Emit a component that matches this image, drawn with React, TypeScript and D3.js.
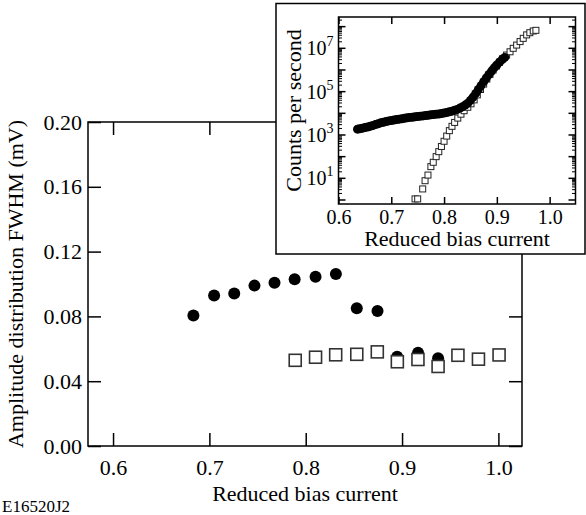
import { useEffect, useRef } from "react";
import * as d3 from "d3";

// main panel: amplitude distribution FWHM (mV) vs reduced bias current
const circleBias = [0.6834, 0.7049, 0.7258, 0.7468, 0.7676, 0.7885, 0.8102, 0.8313, 0.853, 0.8745, 0.8949, 0.9166, 0.9374];
const circleFwhm = [0.0806, 0.0929, 0.0941, 0.099, 0.1007, 0.1029, 0.1045, 0.1062, 0.085, 0.0833, 0.0551, 0.0576, 0.0541];
const squareBias = [0.7891, 0.8102, 0.8311, 0.853, 0.8743, 0.8951, 0.9165, 0.9374, 0.958, 0.9793, 1.0007];
const squareFwhm = [0.0529, 0.0548, 0.0563, 0.0566, 0.0581, 0.052, 0.0534, 0.0491, 0.056, 0.0536, 0.0562];
const mainXTicks = [0.6, 0.7, 0.8, 0.9, 1.0];
const mainYTicks = [0, 0.04, 0.08, 0.12, 0.16, 0.2];

// inset: counts per second, stored as log10 of the count rate
const insetCircleBias = [
  0.636, 0.64, 0.645, 0.65, 0.655, 0.66, 0.665, 0.67, 0.675, 0.68, 0.685, 0.69, 0.695, 0.7, 0.705, 0.71, 0.715, 0.72, 0.725,
  0.73, 0.735, 0.74, 0.745, 0.75, 0.755, 0.76, 0.765, 0.77, 0.775, 0.78, 0.785, 0.79, 0.795, 0.8, 0.805, 0.81, 0.815, 0.82,
  0.825, 0.83, 0.835, 0.84, 0.845, 0.85, 0.855, 0.86, 0.865, 0.87, 0.875, 0.88, 0.885, 0.89, 0.895, 0.9, 0.905, 0.91, 0.915,
];
const insetCircleLog = [
  3.27, 3.29, 3.31, 3.34, 3.37, 3.4, 3.44, 3.48, 3.52, 3.56, 3.59, 3.62, 3.65, 3.67, 3.69, 3.71, 3.73, 3.75, 3.77,
  3.79, 3.81, 3.82, 3.84, 3.85, 3.87, 3.88, 3.9, 3.91, 3.93, 3.94, 3.96, 3.97, 3.99, 4.01, 4.04, 4.07, 4.1, 4.14,
  4.18, 4.24, 4.3, 4.38, 4.47, 4.6, 4.75, 4.92, 5.1, 5.28, 5.46, 5.63, 5.79, 5.95, 6.1, 6.23, 6.36, 6.48, 6.58,
];
const insetSquareBias = [
  0.745, 0.75, 0.7595, 0.764, 0.7695, 0.775, 0.7795, 0.785, 0.79, 0.795, 0.8, 0.805, 0.81, 0.815, 0.82, 0.826, 0.832,
  0.838, 0.845, 0.851, 0.857, 0.863, 0.869, 0.875, 0.881, 0.887, 0.893, 0.899, 0.905, 0.911, 0.9185, 0.925, 0.931,
  0.9375, 0.944, 0.95, 0.9565, 0.9625, 0.969, 0.974,
];
const insetSquareLog = [
  0.05, 0.05, 0.51, 0.89, 1.15, 1.54, 1.74, 2.0, 2.23, 2.47, 2.71, 2.95, 3.2, 3.4, 3.58, 3.78, 3.96,
  4.12, 4.28, 4.44, 4.62, 4.85, 5.1, 5.35, 5.58, 5.8, 6.0, 6.18, 6.36, 6.52, 6.69, 6.84, 7.0,
  7.15, 7.31, 7.46, 7.62, 7.72, 7.8, 7.83,
];
const insetXTicks = [0.6, 0.7, 0.8, 0.9, 1.0];
const insetDecades = [0, 1, 2, 3, 4, 5, 6, 7, 8];
const insetLabelDecades = [1, 3, 5, 7];

const FONT = "'Liberation Serif', 'DejaVu Serif', serif";

export default function App() {
  const ref = useRef<SVGSVGElement>(null);

  useEffect(() => {
    if (!ref.current) return;
    const svg = d3.select(ref.current);
    svg.selectAll("*").remove();

    // ---- main panel ----
    const m = { left: 88, right: 522, top: 122, bottom: 446 };
    const x = d3.scaleLinear().domain([0.574, 1.0245]).range([m.left, m.right]);
    const y = d3.scaleLinear().domain([0, 0.2]).range([m.bottom, m.top]);

    const styleAxis = (g: any, size: number) => {
      g.select(".domain").remove();
      g.selectAll("line").attr("stroke", "#000").attr("stroke-width", 1.5);
      g.selectAll("text").attr("font-family", FONT).attr("font-size", size).attr("fill", "#000");
    };

    svg.append("g")
      .attr("transform", `translate(0,${m.bottom})`)
      .call(d3.axisBottom(x).tickValues(mainXTicks).tickSize(-13).tickPadding(13).tickFormat(d3.format(".1f")))
      .call((g) => styleAxis(g, 22));
    svg.append("g")
      .attr("transform", `translate(0,${m.top})`)
      .call(d3.axisTop(x).tickValues(mainXTicks).tickSize(-13).tickFormat(() => ""))
      .call((g) => styleAxis(g, 22));
    svg.append("g")
      .attr("transform", `translate(${m.left},0)`)
      .call(d3.axisLeft(y).tickValues(mainYTicks).tickSize(-13).tickPadding(6).tickFormat(d3.format(".2f")))
      .call((g) => styleAxis(g, 22));
    svg.append("g")
      .attr("transform", `translate(${m.right},0)`)
      .call(d3.axisRight(y).tickValues(mainYTicks).tickSize(-13).tickFormat(() => ""))
      .call((g) => styleAxis(g, 22));

    svg.append("rect")
      .attr("x", m.left).attr("y", m.top)
      .attr("width", m.right - m.left).attr("height", m.bottom - m.top)
      .attr("fill", "none").attr("stroke", "#000").attr("stroke-width", 1.5);

    svg.append("g").selectAll("circle")
      .data(d3.zip(circleBias, circleFwhm))
      .join("circle")
      .attr("cx", (d) => x(d[0])).attr("cy", (d) => y(d[1]))
      .attr("r", 6).attr("fill", "#000");

    const sq = 12;
    svg.append("g").selectAll("rect")
      .data(d3.zip(squareBias, squareFwhm))
      .join("rect")
      .attr("x", (d) => x(d[0]) - sq / 2).attr("y", (d) => y(d[1]) - sq / 2)
      .attr("width", sq).attr("height", sq)
      .attr("fill", "#fff").attr("stroke", "#333").attr("stroke-width", 1.6);

    svg.append("text")
      .attr("x", (m.left + m.right) / 2).attr("y", 501)
      .attr("text-anchor", "middle").attr("font-family", FONT).attr("font-size", 22)
      .text("Reduced bias current");
    svg.append("text")
      .attr("transform", `translate(23,${(m.top + m.bottom) / 2}) rotate(-90)`)
      .attr("text-anchor", "middle").attr("font-family", FONT).attr("font-size", 22)
      .text("Amplitude distribution FWHM (mV)");
    svg.append("text")
      .attr("x", 2).attr("y", 512)
      .attr("font-family", FONT).attr("font-size", 17)
      .text("E16520J2");

    // ---- inset ----
    const frame = { left: 276, top: 3.5, right: 585, bottom: 254 };
    svg.append("rect")
      .attr("x", frame.left).attr("y", frame.top)
      .attr("width", frame.right - frame.left).attr("height", frame.bottom - frame.top)
      .attr("fill", "#fff").attr("stroke", "#000").attr("stroke-width", 1.5);

    const n = { left: 338.5, right: 575.5, top: 17, bottom: 204 };
    const ix = d3.scaleLinear().domain([0.6, 1.049]).range([n.left, n.right]);
    const iy = d3.scaleLog().domain([Math.pow(10, -0.185), Math.pow(10, 8.445)]).range([n.bottom, n.top]);

    svg.append("g")
      .attr("transform", `translate(0,${n.bottom})`)
      .call(d3.axisBottom(ix).tickValues(insetXTicks).tickSize(-7).tickPadding(6).tickFormat(d3.format(".1f")))
      .call((g) => styleAxis(g, 20));
    svg.append("g")
      .attr("transform", `translate(0,${n.top})`)
      .call(d3.axisTop(ix).tickValues(insetXTicks).tickSize(-7).tickFormat(() => ""))
      .call((g) => styleAxis(g, 20));

    // log ticks on both sides: majors every decade, minors 2..9
    const minors: number[] = [];
    insetDecades.forEach((k) => {
      for (let j = 2; j <= 9; j++) {
        const v = j * Math.pow(10, k);
        const [lo, hi] = iy.domain();
        if (v > lo && v < hi) minors.push(v);
      }
    });
    const tickG = svg.append("g").attr("stroke", "#000");
    [n.left, n.right].forEach((x0) => {
      const dir = x0 === n.left ? 1 : -1;
      tickG.append("g").selectAll("line")
        .data(insetDecades.map((k) => Math.pow(10, k)))
        .join("line")
        .attr("x1", x0).attr("x2", x0 + dir * 7)
        .attr("y1", (d) => iy(d)).attr("y2", (d) => iy(d))
        .attr("stroke-width", 1.5);
      tickG.append("g").selectAll("line")
        .data(minors)
        .join("line")
        .attr("x1", x0).attr("x2", x0 + dir * 3.5)
        .attr("y1", (d) => iy(d)).attr("y2", (d) => iy(d))
        .attr("stroke-width", 1);
    });

    const lab = svg.append("g").attr("font-family", FONT).attr("font-size", 20);
    insetLabelDecades.forEach((k) => {
      const t = lab.append("text")
        .attr("x", n.left - 5).attr("y", iy(Math.pow(10, k)) + 7)
        .attr("text-anchor", "end");
      t.append("tspan").text("10");
      t.append("tspan").attr("font-size", 14).attr("dy", -9).text(String(k));
    });

    svg.append("rect")
      .attr("x", n.left).attr("y", n.top)
      .attr("width", n.right - n.left).attr("height", n.bottom - n.top)
      .attr("fill", "none").attr("stroke", "#000").attr("stroke-width", 1.5);

    const isq = 6;
    svg.append("g").selectAll("rect")
      .data(d3.zip(insetSquareBias, insetSquareLog))
      .join("rect")
      .attr("x", (d) => ix(d[0]) - isq / 2).attr("y", (d) => iy(Math.pow(10, d[1])) - isq / 2)
      .attr("width", isq).attr("height", isq)
      .attr("fill", "#fff").attr("stroke", "#222").attr("stroke-width", 1);

    svg.append("g").selectAll("circle")
      .data(d3.zip(insetCircleBias, insetCircleLog))
      .join("circle")
      .attr("cx", (d) => ix(d[0])).attr("cy", (d) => iy(Math.pow(10, d[1])))
      .attr("r", 4.5).attr("fill", "#000");

    svg.append("text")
      .attr("x", (n.left + n.right) / 2).attr("y", 246)
      .attr("text-anchor", "middle").attr("font-family", FONT).attr("font-size", 22)
      .text("Reduced bias current");
    svg.append("text")
      .attr("transform", `translate(301,${(n.top + n.bottom) / 2}) rotate(-90)`)
      .attr("text-anchor", "middle").attr("font-family", FONT).attr("font-size", 22)
      .text("Counts per second");
  }, []);

  return (
    <svg
      ref={ref}
      width={586}
      height={515}
      style={{ position: "absolute", left: 0, top: 0, background: "#fff" }}
    />
  );
}
